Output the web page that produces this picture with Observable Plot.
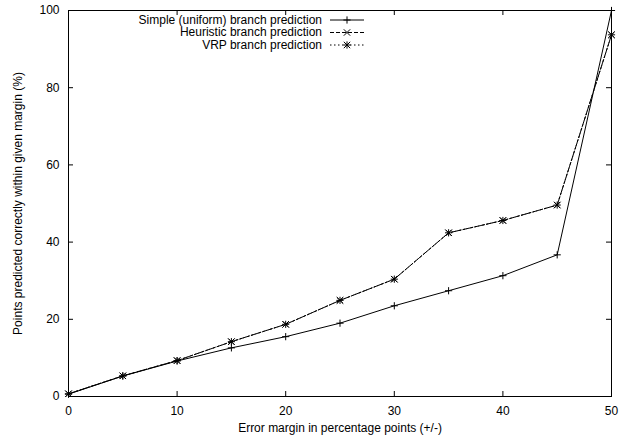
<!DOCTYPE html>
<html><head><meta charset="utf-8">
<script src="https://cdn.jsdelivr.net/npm/d3@7"></script>
<script src="https://cdn.jsdelivr.net/npm/@observablehq/plot@0.6"></script>
<style>body{margin:0;background:#fff}</style>
</head><body><div id="chart"></div>
<script>
const margins = [0, 5, 10, 15, 20, 25, 30, 35, 40, 45, 50];
const simple = [0.6, 5.3, 9.2, 12.6, 15.5, 19.0, 23.5, 27.4, 31.3, 36.7, 100];
const heuristic = [0.7, 5.35, 9.3, 14.2, 18.7, 24.9, 30.4, 42.4, 45.6, 49.6, 93.7];
const vrp = [0.7, 5.35, 9.3, 14.2, 18.7, 24.9, 30.4, 42.4, 45.6, 49.6, 93.7];
const seriesNames = ["Simple (uniform) branch prediction", "Heuristic branch prediction", "VRP branch prediction"];
const xTicks = [0, 10, 20, 30, 40, 50];
const yTicks = [0, 20, 40, 60, 80, 100];
const xLabel = "Error margin in percentage points (+/-)";
const yLabel = "Points predicted correctly within given margin (%)";

const rows = (vals) => margins.map((m, i) => ({x: m, y: vals[i]}));
const sRows = rows(simple), hRows = rows(heuristic), vRows = rows(vrp);
const dashH = "4,2", dashV = "1.5,2.5";
const rPlus = 2.45, rTimes = 3.0;
const font = "'Liberation Sans', Arial, Helvetica, sans-serif";

const svg = Plot.plot({
  width: 625, height: 438,
  marginLeft: 68, marginRight: 14, marginTop: 10, marginBottom: 42,
  x: {domain: [0, 50]},
  y: {domain: [0, 100]},
  style: {fontFamily: font, fontSize: "12px", color: "black", background: "white", overflow: "visible"},
  marks: [
    Plot.axisX({ticks: xTicks, tickSize: 0, tickPadding: 10, label: null, tickFormat: d => String(d)}),
    Plot.axisY({ticks: yTicks, tickSize: 0, tickPadding: 9, label: null, tickFormat: d => String(d)}),
    Plot.tickX(xTicks, {x: d => d, insetTop: 381, stroke: "black"}),
    Plot.tickX(xTicks, {x: d => d, insetBottom: 381, stroke: "black"}),
    Plot.tickY(yTicks, {y: d => d, insetRight: 538, stroke: "black"}),
    Plot.tickY(yTicks, {y: d => d, insetLeft: 538, stroke: "black"}),
    Plot.frame({stroke: "black"}),
    Plot.line(sRows, {x: "x", y: "y", stroke: "black", strokeWidth: 1}),
    Plot.line(hRows, {x: "x", y: "y", stroke: "black", strokeWidth: 1, strokeDasharray: dashH}),
    Plot.line(vRows, {x: "x", y: "y", stroke: "black", strokeWidth: 1, strokeDasharray: dashV}),
    Plot.dot(sRows, {x: "x", y: "y", symbol: "plus", r: rPlus, stroke: "black", strokeWidth: 1}),
    Plot.dot(hRows, {x: "x", y: "y", symbol: "times", r: rTimes, stroke: "black", strokeWidth: 1}),
    Plot.dot(vRows, {x: "x", y: "y", symbol: "plus", r: rPlus, stroke: "black", strokeWidth: 1}),
    Plot.dot(vRows, {x: "x", y: "y", symbol: "times", r: rTimes, stroke: "black", strokeWidth: 1}),
    Plot.text([xLabel], {text: d => d, frameAnchor: "bottom", dy: 32, textAnchor: "middle", lineAnchor: "middle", fill: "black"}),
    Plot.text([yLabel], {text: d => d, frameAnchor: "left", dx: -50, rotate: -90, textAnchor: "middle", lineAnchor: "middle", fill: "black"})
  ]
});

// Legend (inside plot, top)
const g = d3.select(svg).append("g").attr("font-family", font).attr("font-size", 12);
const legendStyles = [
  {dash: null, syms: [[d3.symbolPlus, rPlus]]},
  {dash: dashH, syms: [[d3.symbolTimes, rTimes]]},
  {dash: dashV, syms: [[d3.symbolPlus, rPlus], [d3.symbolTimes, rTimes]]}
];
seriesNames.forEach((name, i) => {
  const yy = 20 + i * 12.5;
  g.append("text").attr("x", 322).attr("y", yy).attr("dy", "0.32em")
    .attr("text-anchor", "end").attr("fill", "black").text(name);
  const ln = g.append("line").attr("x1", 330).attr("x2", 364).attr("y1", yy).attr("y2", yy)
    .attr("stroke", "black").attr("stroke-width", 1);
  if (legendStyles[i].dash) ln.attr("stroke-dasharray", legendStyles[i].dash);
  legendStyles[i].syms.forEach(([sym, r]) => {
    g.append("path").attr("d", d3.symbol(sym, Math.PI * r * r)())
      .attr("transform", `translate(347,${yy})`).attr("fill", "none").attr("stroke", "black");
  });
});

document.getElementById("chart").appendChild(svg);
</script>
</body></html>
